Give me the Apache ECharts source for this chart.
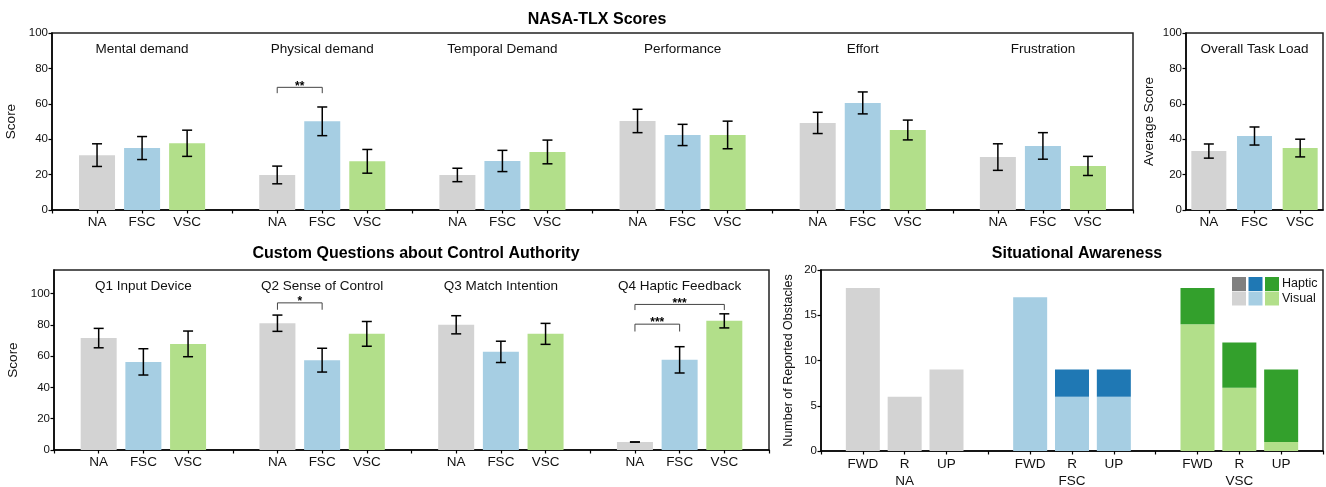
<!DOCTYPE html>
<html>
<head>
<meta charset="utf-8">
<script src="https://cdn.jsdelivr.net/npm/echarts@6/dist/echarts.min.js"></script>
<style>
html,body{margin:0;padding:0;background:#fff;}
#chart{width:1326px;height:487px;}
</style>
</head>
<body>
<div id="chart"></div>
<script>
// ---------- DATA ----------
const conditions = ['NA', 'FSC', 'VSC'];
const tlxDims = ['Mental demand', 'Physical demand', 'Temporal Demand', 'Performance', 'Effort', 'Frustration'];
const tlxMean = [[31.0, 35.0, 37.7], [19.8, 50.1, 27.5], [19.8, 27.7, 32.8], [50.3, 42.4, 42.4], [49.2, 60.5, 45.2], [29.9, 36.2, 24.9]];
const tlxErr  = [[6.4, 6.5, 7.4], [5.0, 8.1, 6.7], [3.8, 6.0, 6.7], [6.6, 6.0, 7.8], [6.0, 6.2, 5.6], [7.5, 7.5, 5.4]];
const overallMean = [33.3, 41.8, 35.0];
const overallErr  = [4.0, 5.1, 5.0];
const questions = ['Q1 Input Device', 'Q2 Sense of Control', 'Q3 Match Intention', 'Q4 Haptic Feedback'];
const qMean = [[71.5, 56.3, 67.8], [81.0, 57.4, 74.2], [80.0, 62.7, 74.2], [5.1, 57.6, 82.5]];
const qErr  = [[6.2, 8.4, 8.2], [5.2, 7.6, 7.9], [5.8, 6.8, 6.7], [0.0, 8.4, 4.5]];
// significance: [group, condA, condB, bracket top, leg end, stars]
const tlxSig = [[1, 0, 1, 69.3, 66.0, '**']];
const qSig = [[1, 0, 1, 94.0, 89.6, '*'], [3, 0, 1, 80.4, 75.7, '***'], [3, 0, 2, 93.0, 89.4, '***']];
const saDirections = ['FWD', 'R', 'UP'];
const saVisual = [[18, 6, 9], [17, 6, 6], [14, 7, 1]];
const saHaptic = [[0, 0, 0], [0, 3, 3], [4, 5, 8]];
const saLegend = ['Haptic', 'Visual'];

// ---------- STYLE ----------
const light = ['#d3d3d3', '#a6cee3', '#b2df8a'];
const dark = ['#808080', '#1f78b4', '#33a02c'];
const FONT = '"Liberation Sans", Arial, sans-serif';
const INK = '#111';
const SA_BAR_W = 34;

const chart = echarts.init(document.getElementById('chart'));

function groupedLabel(v) {
  const k = ((v % 4) + 4) % 4;
  return (v >= 0 && k < 3) ? conditions[k] : '';
}
function saLabel(v) {
  const k = ((v % 4) + 4) % 4;
  if (v < 0 || k >= 3) return '';
  const g = Math.floor(v / 4);
  return k === 1 ? saDirections[k] + '\n' + conditions[g] : saDirections[k];
}

function errRender(params, api) {
  const x = api.value(0), m = api.value(1), e = api.value(2);
  const hi = api.coord([x, m + e]), lo = api.coord([x, m - e]);
  const cw = 5, st = { stroke: '#000', lineWidth: 1.5 };
  return { type: 'group', children: [
    { type: 'line', shape: { x1: hi[0], y1: hi[1], x2: lo[0], y2: lo[1] }, style: st },
    { type: 'line', shape: { x1: hi[0] - cw, y1: hi[1], x2: hi[0] + cw, y2: hi[1] }, style: st },
    { type: 'line', shape: { x1: lo[0] - cw, y1: lo[1], x2: lo[0] + cw, y2: lo[1] }, style: st }
  ]};
}
function makeSigRender(sigArr) {
  return function (params, api) {
    const s = sigArr[params.dataIndex];
    const a = api.coord([api.value(0), api.value(2)]);
    const b = api.coord([api.value(1), api.value(2)]);
    const aL = api.coord([api.value(0), api.value(3)]);
    const bL = api.coord([api.value(1), api.value(3)]);
    const st = { stroke: '#444', lineWidth: 1, fill: null };
    return { type: 'group', children: [
      { type: 'polyline', shape: { points: [[aL[0], aL[1]], [a[0], a[1]], [b[0], b[1]], [bL[0], bL[1]]] }, style: st },
      { type: 'text', x: (a[0] + b[0]) / 2, y: a[1] + 5, style: { text: s[5], fill: '#000', font: 'bold 12px ' + FONT, align: 'center', verticalAlign: 'bottom' } }
    ]};
  };
}
function makeTitleRender(names, ymax) {
  return function (params, api) {
    const p = api.coord([api.value(0), ymax]);
    return { type: 'text', x: p[0], y: p[1] + 16, style: { text: names[params.dataIndex], fill: INK, font: '13.5px ' + FONT, align: 'center', verticalAlign: 'middle' } };
  };
}
// haptic segment stacked on top of the visual bar
function stackRender(params, api) {
  const x = api.value(0), base = api.value(1), h = api.value(2), g = api.value(3);
  if (!(h > 0)) return null;
  const p0 = api.coord([x, base]), p1 = api.coord([x, base + h]);
  return { type: 'rect', shape: { x: p0[0] - SA_BAR_W / 2, y: p1[1], width: SA_BAR_W, height: p0[1] - p1[1] }, style: { fill: dark[g] } };
}

// build data
const tlxBars = [], tlxErrData = [];
tlxDims.forEach((d, g) => conditions.forEach((c, k) => {
  tlxBars.push({ value: [4 * g + k, tlxMean[g][k]], itemStyle: { color: light[k] } });
  tlxErrData.push([4 * g + k, tlxMean[g][k], tlxErr[g][k]]);
}));
const ovBars = overallMean.map((v, k) => ({ value: v, itemStyle: { color: light[k] } }));
const ovErr = overallMean.map((v, k) => [k, v, overallErr[k]]);
const qBars = [], qErrData = [];
questions.forEach((d, g) => conditions.forEach((c, k) => {
  qBars.push({ value: [4 * g + k, qMean[g][k]], itemStyle: { color: light[k] } });
  qErrData.push([4 * g + k, qMean[g][k], qErr[g][k]]);
}));
const saV = [], saH = [];
conditions.forEach((c, g) => saDirections.forEach((d, k) => {
  saV.push({ value: [4 * g + k, saVisual[g][k]], itemStyle: { color: light[g] } });
  saH.push([4 * g + k, saVisual[g][k], saHaptic[g][k], g]);
}));
const sigData = arr => arr.map(s => [4 * s[0] + s[1], 4 * s[0] + s[2], s[3], s[4]]);

const axisLineStyle = { show: true, onZero: false, lineStyle: { color: '#000', width: 1.5 } };
const tickStyle = { show: true, inside: false, length: 3.5, lineStyle: { color: '#000', width: 1.2 } };
const yLab = { color: INK, fontSize: 11.5, fontFamily: FONT, margin: 4 };
const xLab = { color: INK, fontSize: 13.5, fontFamily: FONT, margin: 5 };
const nameStyle = { color: INK, fontSize: 13.5, fontFamily: FONT };
const gridBase = { show: true, borderColor: '#222', borderWidth: 1.5, backgroundColor: 'transparent', containLabel: false, outerBoundsMode: 'none' };

const option = {
  animation: false,
  backgroundColor: '#fff',
  title: [
    { text: 'NASA-TLX Scores', left: 592, top: 7, textAlign: 'center', textStyle: { fontSize: 16, fontWeight: 'bold', fontFamily: FONT, color: '#000' } },
    { text: 'Custom Questions about Control Authority', left: 411, top: 241, textAlign: 'center', textStyle: { fontSize: 16, fontWeight: 'bold', fontFamily: FONT, color: '#000' } },
    { text: 'Situational Awareness', left: 1072, top: 241, textAlign: 'center', textStyle: { fontSize: 16, fontWeight: 'bold', fontFamily: FONT, color: '#000' } }
  ],
  grid: [
    Object.assign({ left: 52, top: 33, width: 1081, height: 177 }, gridBase),
    Object.assign({ left: 1186, top: 33, width: 137, height: 177 }, gridBase),
    Object.assign({ left: 54, top: 270, width: 715, height: 180 }, gridBase),
    Object.assign({ left: 821, top: 270, width: 502, height: 181 }, gridBase)
  ],
  xAxis: [
    { gridIndex: 0, type: 'value', min: -1, max: 23, interval: 1, axisLine: axisLineStyle, axisTick: tickStyle, splitLine: { show: false }, axisLabel: Object.assign({ formatter: groupedLabel }, xLab) },
    { gridIndex: 1, type: 'category', data: conditions, axisLine: axisLineStyle, axisTick: Object.assign({ alignWithLabel: true }, tickStyle), axisLabel: xLab },
    { gridIndex: 2, type: 'value', min: -1, max: 15, interval: 1, axisLine: axisLineStyle, axisTick: tickStyle, splitLine: { show: false }, axisLabel: Object.assign({ formatter: groupedLabel }, xLab) },
    { gridIndex: 3, type: 'value', min: -1, max: 11, interval: 1, axisLine: axisLineStyle, axisTick: tickStyle, splitLine: { show: false }, axisLabel: Object.assign({}, xLab, { formatter: saLabel, lineHeight: 17, margin: 5 }) }
  ],
  yAxis: [
    { gridIndex: 0, type: 'value', min: 0, max: 100, interval: 20, name: 'Score', nameLocation: 'middle', nameGap: 26, nameTextStyle: nameStyle, axisLine: axisLineStyle, axisTick: tickStyle, splitLine: { show: false }, axisLabel: yLab },
    { gridIndex: 1, type: 'value', min: 0, max: 100, interval: 20, name: 'Average Score', nameLocation: 'middle', nameGap: 30, nameTextStyle: nameStyle, axisLine: axisLineStyle, axisTick: tickStyle, splitLine: { show: false }, axisLabel: yLab },
    { gridIndex: 2, type: 'value', min: 0, max: 115, interval: 20, name: 'Score', nameLocation: 'middle', nameGap: 29, nameTextStyle: nameStyle, axisLine: axisLineStyle, axisTick: tickStyle, splitLine: { show: false }, axisLabel: Object.assign({ showMaxLabel: false }, yLab) },
    { gridIndex: 3, type: 'value', min: 0, max: 20, interval: 5, name: 'Number of Reported Obstacles', nameLocation: 'middle', nameGap: 26, nameTextStyle: Object.assign({}, nameStyle, { fontSize: 12.5 }), axisLine: axisLineStyle, axisTick: tickStyle, splitLine: { show: false }, axisLabel: yLab }
  ],
  series: [
    { type: 'bar', xAxisIndex: 0, yAxisIndex: 0, barWidth: 36, data: tlxBars },
    { type: 'custom', xAxisIndex: 0, yAxisIndex: 0, renderItem: errRender, data: tlxErrData, z: 5 },
    { type: 'custom', xAxisIndex: 0, yAxisIndex: 0, renderItem: makeSigRender(tlxSig), data: sigData(tlxSig), z: 5 },
    { type: 'custom', xAxisIndex: 0, yAxisIndex: 0, renderItem: makeTitleRender(tlxDims, 100), data: tlxDims.map((d, g) => [4 * g + 1, 0]), z: 5 },

    { type: 'bar', xAxisIndex: 1, yAxisIndex: 1, barWidth: 35, data: ovBars },
    { type: 'custom', xAxisIndex: 1, yAxisIndex: 1, renderItem: errRender, data: ovErr, z: 5 },
    { type: 'custom', xAxisIndex: 1, yAxisIndex: 1, renderItem: makeTitleRender(['Overall Task Load'], 100), data: [[1, 0]], z: 5 },

    { type: 'bar', xAxisIndex: 2, yAxisIndex: 2, barWidth: 36, data: qBars },
    { type: 'custom', xAxisIndex: 2, yAxisIndex: 2, renderItem: errRender, data: qErrData, z: 5 },
    { type: 'custom', xAxisIndex: 2, yAxisIndex: 2, renderItem: makeSigRender(qSig), data: sigData(qSig), z: 5 },
    { type: 'custom', xAxisIndex: 2, yAxisIndex: 2, renderItem: makeTitleRender(questions, 115), data: questions.map((d, g) => [4 * g + 1, 0]), z: 5 },

    { type: 'bar', xAxisIndex: 3, yAxisIndex: 3, barWidth: SA_BAR_W, name: 'Visual', data: saV, z: 2 },
    { type: 'custom', xAxisIndex: 3, yAxisIndex: 3, name: 'Haptic', renderItem: stackRender, data: saH, z: 3 }
  ],
  graphic: [
    { type: 'group', left: 1232, top: 277, children:
      dark.map((c, i) => ({ type: 'rect', shape: { x: i * 16.5, y: 0, width: 14, height: 14 }, style: { fill: c } }))
      .concat(light.map((c, i) => ({ type: 'rect', shape: { x: i * 16.5, y: 14.5, width: 14, height: 14 }, style: { fill: c } })))
      .concat([
        { type: 'text', x: 50, y: 7, style: { text: saLegend[0], fill: INK, font: '12.5px ' + FONT, verticalAlign: 'middle' } },
        { type: 'text', x: 50, y: 21.5, style: { text: saLegend[1], fill: INK, font: '12.5px ' + FONT, verticalAlign: 'middle' } }
      ])
    }
  ]
};
chart.setOption(option);
</script>
</body>
</html>
